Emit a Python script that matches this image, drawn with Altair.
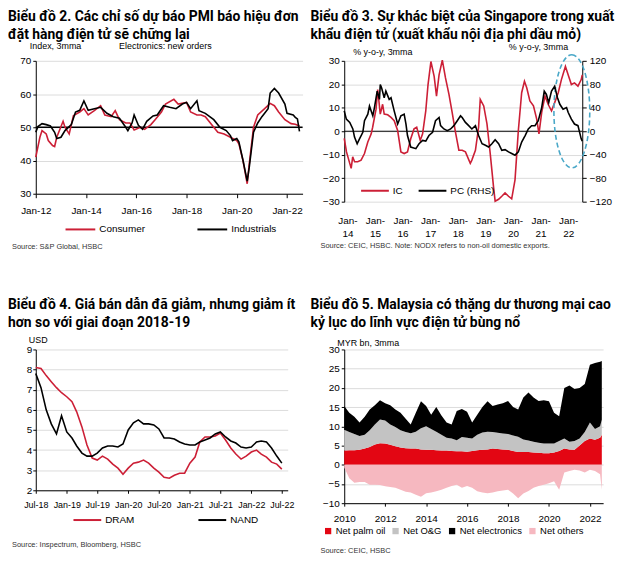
import altair as alt
import pandas as pd

# ---------------- Chart 2: PMI electronics new orders ----------------
pmi_consumer_dates = ["2012-01", "2012-03", "2012-04", "2012-06", "2012-07", "2012-09", "2012-10", "2012-11",
                      "2013-02", "2013-03", "2013-05", "2013-07", "2013-10", "2013-12", "2014-02", "2014-05",
                      "2014-08", "2014-10", "2015-01", "2015-03", "2015-05", "2015-08", "2015-10", "2015-12",
                      "2016-03", "2016-05", "2016-08", "2016-10", "2017-01", "2017-03", "2017-07", "2017-09",
                      "2018-01", "2018-03", "2018-06", "2018-08", "2018-10", "2019-02", "2019-04", "2019-07",
                      "2019-10", "2020-01", "2020-02", "2020-04", "2020-06", "2020-07", "2020-09", "2020-11",
                      "2021-03", "2021-05", "2021-07", "2021-09", "2021-12", "2022-03", "2022-05", "2022-07"]
pmi_consumer = [41, 47, 49, 48, 46, 44.5, 44.2, 47,
                51.8, 50, 48, 53.5, 54.6, 55.6, 53.7, 55,
                56.5, 53.7, 53.2, 55, 52.3, 51.3, 51.3, 49.2,
                50, 49.4, 50.8, 52.3, 54.6, 57, 58.4, 57,
                57.5, 54.6, 53.7, 53.7, 53.2, 50, 48.5, 48,
                47, 46, 45, 40, 33, 39, 50, 53.7,
                56, 57.2, 56.5, 54.6, 52.3, 51.1, 50.9, 50.4]
pmi_industrial_dates = ["2012-01", "2012-02", "2012-04", "2012-06", "2012-08", "2012-10", "2012-11", "2013-01",
                        "2013-03", "2013-06", "2013-08", "2013-10", "2013-12", "2014-02", "2014-05", "2014-08",
                        "2014-11", "2015-02", "2015-05", "2015-08", "2015-09", "2015-11", "2015-12", "2016-02",
                        "2016-04", "2016-06", "2016-09", "2016-11", "2017-02", "2017-05", "2017-08", "2017-11",
                        "2018-01", "2018-03", "2018-06", "2018-07", "2018-10", "2019-02", "2019-05", "2019-08",
                        "2019-10", "2019-11", "2020-01", "2020-02", "2020-04", "2020-06", "2020-07", "2020-09",
                        "2020-11", "2021-01", "2021-04", "2021-05", "2021-07", "2021-09", "2021-12", "2022-01",
                        "2022-04", "2022-05", "2022-06", "2022-07"]
pmi_industrial = [48.5, 50.2, 51.1, 50.8, 50.4, 48.5, 46.6, 47,
                  49, 50.8, 54.6, 55.1, 57.9, 55.1, 55.6, 56,
                  54.2, 53.2, 52.7, 50, 49, 51.3, 53.7, 50.6,
                  49.4, 51.8, 53.4, 53.7, 56.5, 56, 55.6, 57,
                  57.5, 55.6, 58, 55, 54.2, 52.3, 50, 49,
                  47.5, 46, 46.6, 45.6, 40, 33.8, 38, 48.5,
                  51.3, 53.2, 55.6, 60.3, 61.7, 60.3, 57, 54.2,
                  53.7, 53, 52.5, 48.8]

# ---------------- Chart 3: Singapore NODX ----------------
sg_ic_dates = ["2013-11-20", "2013-12-20", "2014-02-01", "2014-02-20", "2014-03-12", "2014-04-06", "2014-05-18",
               "2014-07-01", "2014-08-15", "2014-09-28", "2014-11-12", "2014-12-01", "2015-01-15", "2015-02-06",
               "2015-03-12", "2015-04-12", "2015-05-03", "2015-06-18", "2015-08-01", "2015-09-12", "2015-10-28",
               "2015-12-10", "2016-01-22", "2016-03-06", "2016-04-18", "2016-06-01", "2016-07-06", "2016-08-22",
               "2016-09-22", "2016-11-03", "2016-12-03", "2017-01-10", "2017-02-22", "2017-03-25", "2017-04-28",
               "2017-06-10", "2017-07-22", "2017-09-06", "2017-10-18", "2017-12-01", "2018-01-15", "2018-02-28",
               "2018-04-12", "2018-06-15", "2018-07-06", "2018-08-22", "2018-10-03", "2018-10-25", "2018-12-10",
               "2019-01-22", "2019-03-06", "2019-04-18", "2019-05-10", "2019-06-25", "2019-08-06", "2019-09-18",
               "2019-11-03", "2019-12-15", "2020-01-28", "2020-03-12", "2020-04-25", "2020-06-01", "2020-07-01",
               "2020-08-12", "2020-09-28", "2020-11-10", "2020-12-10", "2021-01-15", "2021-02-28", "2021-04-10",
               "2021-05-25", "2021-07-06", "2021-08-22", "2021-10-03", "2021-11-25", "2022-01-01", "2022-02-12",
               "2022-03-25", "2022-05-10", "2022-06-22", "2022-07-06"]
sg_ic = [-3, -8.8, -13.7, -15.8, -10.9, -13, -13,
         -12.3, -9.5, -4.6, -1.1, 1.7, 9.4, 17.8,
         7.3, 11.5, 7.3, 7, 5.9, 4.5, 0.3,
         -8.8, -9.5, -8.8, -3.2, 1, 1.7, -3.9,
         -1.1, 8.7, 19.9, 29.7, 23.4, 15, 24,
         30.3, 22.7, 15.7, 8, -0.4, -8.1, -8.1,
         -8.8, -13.7, -12.3, -8.1, 1.7, 13.6, 10.8,
         3.1, -9.5, -23.5, -29.8, -29, -27.7, -26.3,
         -27.7, -28.8, -20.7, 0.3, 16.4, 21.3, 18.5,
         12.9, 10.8, 5.2, -1.1, 8, 15, 11.5,
         8.7, 12.2, 16.4, 22, 27.6, 24, 19.9,
         20.6, 19.2, 22, 24]
sg_pc_dates = ["2013-11-20", "2013-12-18", "2014-02-01", "2014-03-14", "2014-04-05", "2014-05-10", "2014-06-10",
               "2014-07-24", "2014-08-15", "2014-09-28", "2014-10-20", "2014-12-03", "2014-12-25", "2015-01-30",
               "2015-03-01", "2015-03-12", "2015-03-30", "2015-05-03", "2015-05-25", "2015-07-08", "2015-08-01",
               "2015-09-12", "2015-10-28", "2015-12-10", "2016-01-22", "2016-02-15", "2016-03-06", "2016-04-18",
               "2016-06-25", "2016-08-06", "2016-09-22", "2016-11-03", "2016-12-15", "2017-02-01", "2017-03-12",
               "2017-04-28", "2017-05-18", "2017-07-01", "2017-08-15", "2017-09-28", "2017-11-10", "2017-12-25",
               "2018-02-06", "2018-02-28", "2018-04-12", "2018-05-25", "2018-07-06", "2018-08-22", "2018-10-03",
               "2018-11-18", "2019-01-01", "2019-02-12", "2019-03-28", "2019-05-10", "2019-06-25", "2019-08-06",
               "2019-09-18", "2019-11-03", "2019-12-15", "2020-01-28", "2020-03-12", "2020-04-25", "2020-06-10",
               "2020-07-22", "2020-09-03", "2020-10-18", "2020-12-01", "2021-01-15", "2021-02-18", "2021-03-18",
               "2021-04-18", "2021-05-25", "2021-07-06", "2021-08-12", "2021-09-12", "2021-10-25", "2021-12-10",
               "2022-01-01", "2022-02-12", "2022-03-25", "2022-05-10", "2022-06-22", "2022-07-06"]
sg_pc = [34.7, 20.7, 15.1, 3.9, -10, -21.3, -12.9,
         -1.7, 17.9, 29.1, 43, 26.3, 40.3, 68.3,
         54.3, 79.4, 73.8, 57, 68.3, 54.3, 57,
         34.7, 12.3, 26.3, 29.1, 12.3, -7.3, -26.9,
         -29.7, -21.3, -15.7, -16.8, -7.3, -1.7, 17.9,
         23.5, 9.5, 3.9, 1.1, 3.9, 9.5, 17.9,
         26.3, 23.5, 15.1, 9.5, 3.9, 9.5, -7.3,
         -21.3, -24, -26.9, -21.3, -14.5, -21.3, -32.4,
         -31.3, -35.2, -38, -40.8, -35.2, -18.5, -7.3,
         3.9, 9.5, 9.5, 17.9, 40.3, 68.3, 62.7,
         48.7, 68.3, 76.6, 57, 45.9, 37.5, 40.3,
         31.9, 20.7, 12.3, 9.5, -12.9, -16.8]
ellipse_date = ["2022-02-18"]
ellipse_value = [8.5]

# ---------------- Chart 4: memory chip prices ----------------
mem_dates = ["2018-07", "2018-08", "2018-09", "2018-10", "2018-11", "2018-12",
             "2019-01", "2019-02", "2019-03", "2019-04", "2019-05", "2019-06",
             "2019-07", "2019-08", "2019-09", "2019-10", "2019-11", "2019-12",
             "2020-01", "2020-02", "2020-03", "2020-04", "2020-05", "2020-06",
             "2020-07", "2020-08", "2020-09", "2020-10", "2020-11", "2020-12",
             "2021-01", "2021-02", "2021-03", "2021-04", "2021-05", "2021-06",
             "2021-07", "2021-08", "2021-09", "2021-10", "2021-11", "2021-12",
             "2022-01", "2022-02", "2022-03", "2022-04", "2022-05", "2022-06", "2022-07"]
dram = [8.1, 8.05, 7.7, 7.4, 7.1, 6.85,
        6.65, 6.4, 5.9, 5.15, 4.25, 3.6,
        3.5, 3.7, 3.55, 3.3, 3.1, 2.8,
        3.1, 3.35, 3.4, 3.5, 3.35, 3.1,
        2.9, 2.65, 2.6, 2.75, 2.85, 2.85,
        3.35, 3.65, 4.4, 4.65, 4.65, 4.7,
        4.85, 4.5, 4.1, 3.8, 3.55, 3.7,
        3.9, 4.0, 3.8, 3.65, 3.4, 3.3, 3.05]
nand = [7.8, 7.1, 6.0, 5.3, 4.8, 5.7,
        4.9, 4.6, 4.2, 3.85, 3.7, 3.7,
        3.85, 4.1, 4.2, 4.2, 4.15, 4.3,
        5.0, 5.35, 5.5, 5.3, 5.3, 5.25,
        5.05, 4.6, 4.6, 4.55, 4.4, 4.3,
        4.25, 4.25, 4.4, 4.5, 4.6, 4.8,
        4.9, 4.65, 4.45, 4.35, 4.15, 4.1,
        4.15, 4.4, 4.45, 4.4, 4.1, 3.7, 3.35]

# ---------------- Chart 5: Malaysia trade balance ----------------
my_dates = ["2010-01", "2010-04", "2010-07", "2010-10", "2011-01", "2011-04", "2011-07", "2011-10",
            "2012-01", "2012-04", "2012-07", "2012-10", "2013-01", "2013-04", "2013-07", "2013-10",
            "2014-01", "2014-04", "2014-07", "2014-10", "2015-01", "2015-04", "2015-07", "2015-10",
            "2016-01", "2016-04", "2016-07", "2016-10", "2017-01", "2017-04", "2017-07", "2017-10",
            "2018-01", "2018-04", "2018-07", "2018-10", "2019-01", "2019-04", "2019-07", "2019-10",
            "2020-01", "2020-04", "2020-07", "2020-10", "2021-01", "2021-04", "2021-07", "2021-10",
            "2022-01", "2022-04", "2022-07", "2022-08"]
net_palm_oil = [3.7, 3.8, 3.8, 3.9, 4.2, 4.6, 5.3, 5.6,
                5.5, 5.2, 4.8, 4.5, 4.3, 4.2, 4.2, 4.0,
                3.9, 3.9, 3.8, 3.7, 3.7, 3.6, 3.5, 3.5,
                3.4, 3.6, 3.8, 3.9, 4.0, 4.2, 4.1, 4.0,
                3.9, 3.6, 3.3, 3.3, 3.3, 3.2, 3.1, 3.0,
                3.0, 3.2, 3.6, 4.2, 4.0, 3.9, 5.0, 6.2,
                6.8, 6.5, 7.0, 7.8]
net_og = [5.4, 4.7, 4.2, 3.6, 3.6, 4.4, 5.2, 6.2,
          6.0, 5.3, 5.0, 4.5, 4.2, 4.0, 4.4, 5.5,
          6.1, 5.4, 4.8, 4.1, 3.3, 3.2, 2.9, 3.7,
          3.6, 3.2, 4.0, 4.5, 4.6, 4.3, 4.2, 4.1,
          4.1, 4.0, 4.0, 3.3, 3.0, 2.8, 2.6, 2.5,
          2.5, 2.3, 2.6, 2.6, 2.0, 2.3, 1.8, 2.3,
          4.2, 2.8, 3.0, 3.9]
net_electronics = [6.2, 5.0, 4.5, 3.5, 4.7, 5.4, 5.0, 5.0,
                   4.5, 5.0, 4.6, 4.5, 3.5, 2.3, 4.9, 7.0,
                   5.3, 3.7, 6.4, 5.0, 4.0, 3.7, 7.6, 7.3,
                   6.8, 4.2, 5.2, 6.6, 7.9, 6.8, 7.4, 7.9,
                   8.6, 7.4, 7.1, 10.9, 12.5, 11.5, 10.9, 11.3,
                   11.0, 8.0, 6.4, 13.2, 14.6, 13.5, 13.2, 12.5,
                   15.0, 17.2, 16.8, 15.3]
net_others = [-0.7, -3.5, -4.7, -4.5, -4.5, -5.2, -5.2, -5.3,
              -5.6, -5.8, -6.0, -6.5, -7.0, -7.2, -7.8, -8.3,
              -7.4, -7.2, -6.9, -6.5, -6.0, -5.5, -5.2, -6.0,
              -5.5, -6.0, -6.9, -7.2, -7.4, -7.2, -6.9, -6.7,
              -6.5, -7.5, -8.7, -7.5, -6.8, -6.0, -5.5, -5.2,
              -4.8, -4.3, -6.5, -2.0, -1.6, -1.3, -1.5, -2.0,
              -1.3, -1.6, -2.5, -6.5]

# ---------------- styling ----------------
RED = "#cc1f36"
AREA_RED = "#e30613"
GREY = "#c3c3c3"
PINK = "#f6b8c0"
GRID = "#dcdcdc"
AXF = "Liberation Sans, Arial, sans-serif"
TF = "Roboto, Lato, sans-serif"


def D(y, m, d=1):
    return alt.DateTime(year=y, month=m, date=d)


def ax(**kw):
    base = dict(title=None, labelFont=AXF, labelFontSize=10, labelColor="#000",
                domainColor="#000", tickColor="#000", tickSize=3, gridColor=GRID,
                gridWidth=1, labelPadding=2, labelOverlap=False, labelBound=False,
                labelFlush=False)
    base.update(kw)
    return alt.Axis(**base)


def ptitle(lines, dx, offset):
    return alt.TitleParams(text=lines, anchor="start", frame="group", dx=dx, offset=offset,
                           font=TF, fontSize=14, fontWeight="bold", color="#000", lineHeight=18)


def note(text, x, y, size=9, baseline="bottom", color="#000"):
    return alt.Chart(pd.DataFrame({"t": [text]})).mark_text(
        align="left", baseline=baseline, font=AXF, fontSize=size, color=color
    ).encode(text="t:N", x=alt.value(x), y=alt.value(y))


def source(text, x, y):
    return note(text, x, y, size=7.5, baseline="alphabetic", color="#333")


def line_legend(x, y, pad, length=30):
    return alt.Legend(orient="none", legendX=x, legendY=y, direction="horizontal", title=None,
                      symbolType="stroke", symbolSize=length * length, symbolStrokeWidth=2,
                      labelFont=AXF, labelFontSize=10, labelColor="#000", columnPadding=pad,
                      labelOffset=3)


# ---------------- Panel 1 ----------------
d1 = pd.DataFrame({
    "date": pd.to_datetime(pmi_consumer_dates + pmi_industrial_dates),
    "value": pmi_consumer + pmi_industrial,
    "series": ["Consumer"] * len(pmi_consumer) + ["Industrials"] * len(pmi_industrial),
})
x1 = alt.X("date:T", scale=alt.Scale(domain=[D(2012, 1), D(2022, 8, 15)]),
           axis=ax(values=[D(y, 1) for y in range(2012, 2023, 2)], format="%b-%y", grid=False,
                   tickSize=4, labelPadding=8))
y1 = alt.Y("value:Q", scale=alt.Scale(domain=[30, 70], nice=False),
           axis=ax(values=[30, 40, 50, 60, 70], grid=True))
c1 = alt.Color("series:N", scale=alt.Scale(domain=["Consumer", "Industrials"], range=[RED, "#000"]),
               legend=line_legend(29, 154, 48, 30))
rule1 = alt.Chart(pd.DataFrame({"value": [50]})).mark_rule(color="#000", strokeWidth=1.5).encode(y=y1)
lines1 = alt.Chart(d1).mark_line(strokeWidth=1.6).encode(x=x1, y=y1, color=c1)
p1 = alt.layer(
    rule1, lines1,
    note("Index, 3mma", -6, -10),
    note("Electronics:  new orders", 84, -10),
    source("Source: S&P Global, HSBC", -24, 190),
).properties(width=269, height=134,
             title=ptitle(["Biểu đồ 2. Các chỉ số dự báo PMI báo hiệu đơn",
                           "đặt hàng điện tử sẽ chững lại"], -28, 0))

# ---------------- Panel 2 ----------------
d2a = pd.DataFrame({"date": pd.to_datetime(sg_ic_dates), "value": sg_ic, "series": "IC"})
d2b = pd.DataFrame({"date": pd.to_datetime(sg_pc_dates), "value": sg_pc, "series": "PC (RHS)"})
x2 = alt.X("date:T", scale=alt.Scale(domain=[D(2013, 11, 20), D(2022, 7, 6)]),
           axis=ax(values=[D(y, 1) for y in range(2014, 2023)],
                   labelExpr="['Jan-', timeFormat(datum.value, '%y')]",
                   domain=False, ticks=False, tickSize=0, grid=False, labelPadding=14, labelLineHeight=13))
y2l = alt.Y("value:Q", scale=alt.Scale(domain=[-30, 30], nice=False),
            axis=ax(values=[-30, -20, -10, 0, 10, 20, 30], grid=True, orient="left"))
y2r = alt.Y("value:Q", scale=alt.Scale(domain=[-120, 120], nice=False),
            axis=ax(values=[-120, -80, -40, 0, 40, 80, 120], grid=False, orient="right",
                    tickSize=4, labelPadding=3))
c2 = alt.Color("series:N", scale=alt.Scale(domain=["IC", "PC (RHS)"], range=[RED, "#000"]),
               legend=line_legend(16, 116, 12, 28))
rule2 = alt.Chart(pd.DataFrame({"value": [0]})).mark_rule(color="#000", strokeWidth=1).encode(y=y2l)
ic_line = alt.Chart(d2a).mark_line(strokeWidth=1.6).encode(x=x2, y=y2l, color=c2)
ell = alt.Chart(pd.DataFrame({"date": pd.to_datetime(ellipse_date), "value": ellipse_value})).mark_point(
    shape="M0,-1 A0.317,1 0 1,1 0,1 A0.317,1 0 1,1 0,-1 Z", size=13000, filled=False,
    stroke="#4aa8c8", strokeWidth=1.6, strokeDash=[5, 3], opacity=1
).encode(x=x2, y=y2l)
left2 = alt.layer(
    rule2, ic_line, ell,
    note("% y-o-y, 3mma", 9, -4),
    note("% y-o-y, 3mma", 166, -9),
    source("Source: CEIC, HSBC. Note: NODX refers to non-oil domestic exports.", -24, 189),
)
pc_line = alt.Chart(d2b).mark_line(strokeWidth=1.6).encode(x=x2, y=y2r, color=c2)
p2 = alt.layer(left2, pc_line).resolve_scale(y="independent").properties(
    width=240, height=142,
    title=ptitle(["Biểu đồ 3. Sự khác biệt của Singapore trong xuất",
                  "khẩu điện tử (xuất khẩu nội địa phi dầu mỏ)"], -34, 1))

# ---------------- Panel 3 ----------------
d3 = pd.DataFrame({
    "date": pd.to_datetime(mem_dates + mem_dates),
    "value": dram + nand,
    "series": ["DRAM"] * len(dram) + ["NAND"] * len(nand),
})
x3 = alt.X("date:T", scale=alt.Scale(domain=[D(2018, 7), D(2022, 8, 5)]),
           axis=ax(values=[D(2018 + (i + 1) // 2, 7 if i % 2 == 0 else 1) for i in range(9)],
                   format="%b-%y", grid=False, tickSize=3, labelPadding=7, labelFontSize=9))
y3 = alt.Y("value:Q", scale=alt.Scale(domain=[2, 9], nice=False),
           axis=ax(values=list(range(2, 10)), grid=True, labelPadding=1))
c3 = alt.Color("series:N", scale=alt.Scale(domain=["DRAM", "NAND"], range=[RED, "#000"]),
               legend=line_legend(37, 157, 60, 28))
p3 = alt.layer(
    alt.Chart(d3).mark_line(strokeWidth=1.6).encode(x=x3, y=y3, color=c3),
    note("USD", -7, -5),
    source("Source: Inspectrum, Bloomberg, HSBC", -24, 199),
).properties(width=254, height=142,
             title=ptitle(["Biểu đồ 4. Giá bán dẫn đã giảm, nhưng giảm ít",
                           "hơn so với giai đoạn 2018-19"], -28, 6))

# ---------------- Panel 4 ----------------
names = ["Net palm oil", "Net O&G", "Net electronics", "Net others"]
vals = [net_palm_oil, net_og, net_electronics, net_others]
d4 = pd.DataFrame({
    "date": pd.to_datetime(my_dates * 4),
    "value": sum(vals, []),
    "series": sum([[n] * len(my_dates) for n in names], []),
    "ord": sum([[i] * len(my_dates) for i in range(4)], []),
})
x4 = alt.X("date:T", scale=alt.Scale(domain=[D(2010, 1), D(2022, 8, 24)]),
           axis=ax(values=[D(y, 1) for y in range(2010, 2023, 2)], format="%Y", grid=False,
                   tickSize=3, labelPadding=7))
y4 = alt.Y("value:Q", stack="zero", scale=alt.Scale(domain=[-10, 30], nice=False),
           axis=ax(values=list(range(-10, 31, 5)), grid=True))
c4 = alt.Color("series:N", scale=alt.Scale(domain=names, range=[AREA_RED, GREY, "#000", PINK]),
               legend=alt.Legend(orient="none", legendX=-21, legendY=178, direction="horizontal",
                                 title=None, symbolType="square", symbolSize=40, symbolStrokeWidth=0,
                                 labelFont=AXF, labelFontSize=9.5, labelColor="#000",
                                 columnPadding=5, labelOffset=3))
p4 = alt.layer(
    alt.Chart(d4).mark_area(opacity=1).encode(x=x4, y=y4, color=c4, order=alt.Order("ord:Q")),
    note("MYR bn, 3mma", -7, -1),
    source("Source: CEIC, HSBC", -24, 205),
).properties(width=261, height=155,
             title=ptitle(["Biểu đồ 5. Malaysia có thặng dư thương mại cao",
                           "kỷ lục do lĩnh vực điện tử bùng nổ"], -34, 10))

row1 = alt.hconcat(p1, p2, spacing=7).resolve_scale(color="independent")
row2 = alt.hconcat(p3, p4, spacing=15).resolve_scale(color="independent")
chart = alt.vconcat(row1, row2, spacing=47).resolve_scale(color="independent").properties(
    padding=0, background="white").configure_view(stroke=None)

chart.save("out.html", embed_options={"renderer": "svg", "actions": False})
